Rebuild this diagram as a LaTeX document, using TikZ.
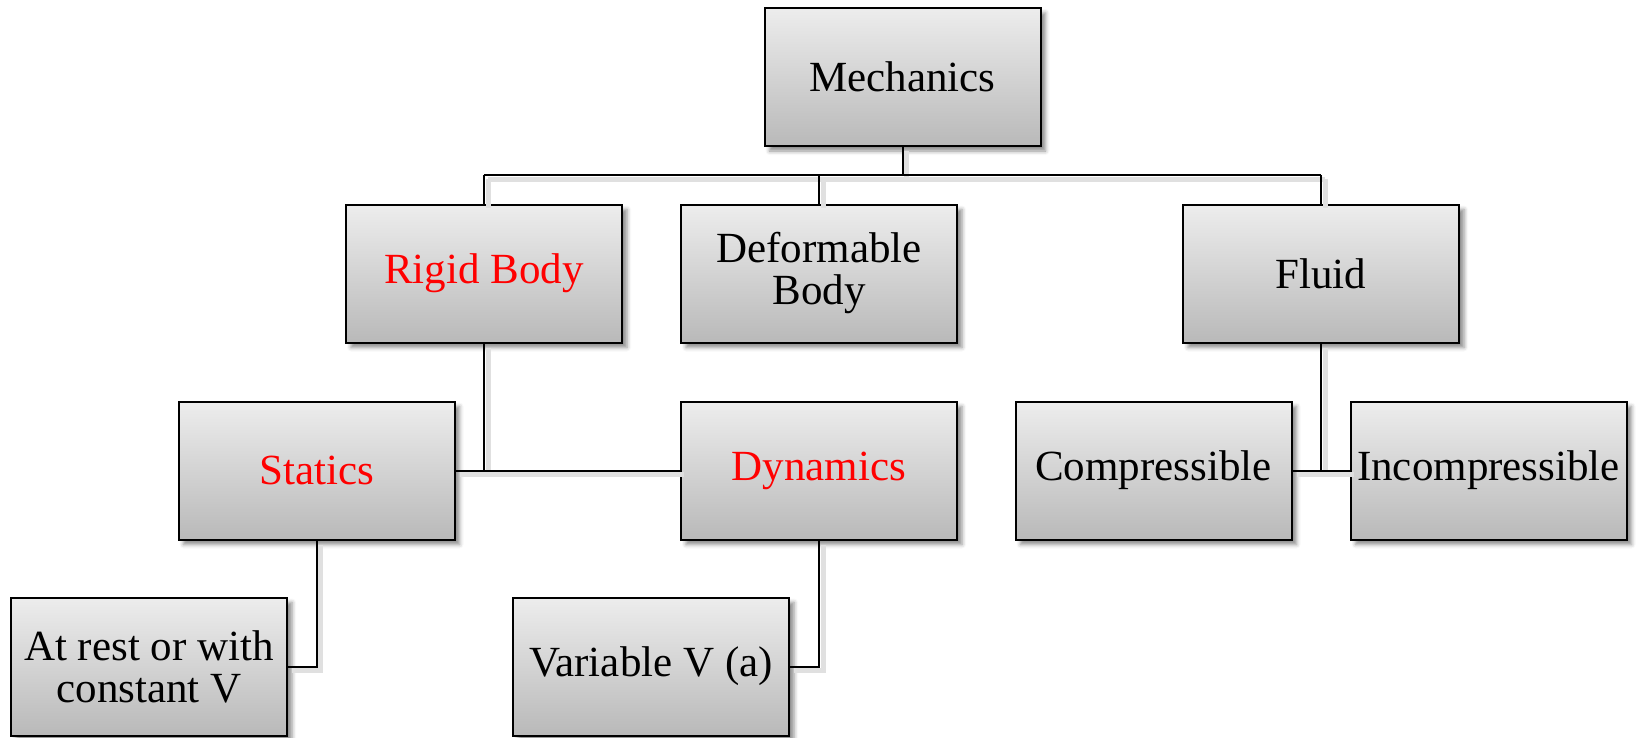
\documentclass[tikz,border=0pt]{standalone}
\usepackage{fontspec}
\setmainfont{Liberation Serif}
\usetikzlibrary{shadows.blur}
\definecolor{boxtop}{HTML}{EDEDED}
\definecolor{boxbot}{HTML}{B9B9B9}
\begin{document}
\begin{tikzpicture}[x=0.5pt,y=-0.5pt,
  boxnode/.style={draw=black, line width=1pt, rectangle,
    minimum width=138pt, minimum height=69pt, inner sep=1pt,
    top color=boxtop, bottom color=boxbot, align=center,
    font=\fontsize{21.5}{21}\selectfont,
    blur shadow={shadow xshift=2.5pt, shadow yshift=-2.5pt, shadow opacity=45, shadow blur radius=2pt}},
  redtext/.style={text=red},
  conn/.style={draw=black, line width=1pt,
    preaction={draw=black!12, line width=2.5pt, transform canvas={shift={(2pt,-2pt)}}}}]
\useasboundingbox (0,0) rectangle (1643,738);
\node[boxnode] (mech) at (902.5,77) {Mechanics};
\node[boxnode, redtext] (rigid) at (484,273.5) {Rigid Body};
\node[boxnode] (deform) at (819,273.5) {Deformable\\Body};
\node[boxnode] (fluid) at (1321,273.5) {Fluid};
\node[boxnode, redtext] (statics) at (316.5,470.5) {Statics};
\node[boxnode, redtext] (dyn) at (819,470.5) {Dynamics};
\node[boxnode] (comp) at (1153.5,470.5) {Compressible};
\node[boxnode] (incomp) at (1488.5,470.5) {Incompressible};
\node[boxnode] (rest) at (149,666.5) {At rest or with\\constant V};
\node[boxnode] (var) at (651,666.5) {Variable V (a)};
\coordinate (bus) at (0,175);
\path[conn] (mech.south) -- (mech.south |- bus);
\path[conn] (rigid.north |- bus) -- (fluid.north |- bus);
\path[conn] (rigid.north |- bus) -- (rigid.north);
\path[conn] (deform.north |- bus) -- (deform.north);
\path[conn] (fluid.north |- bus) -- (fluid.north);
\path[conn] (rigid.south) -- (rigid.south |- statics.east);
\path[conn] (statics.east) -- (dyn.west);
\path[conn] (fluid.south) -- (fluid.south |- comp.east);
\path[conn] (comp.east) -- (incomp.west);
\path[conn] (statics.south) |- (rest.east);
\path[conn] (dyn.south) |- (var.east);
\end{tikzpicture}
\end{document}
